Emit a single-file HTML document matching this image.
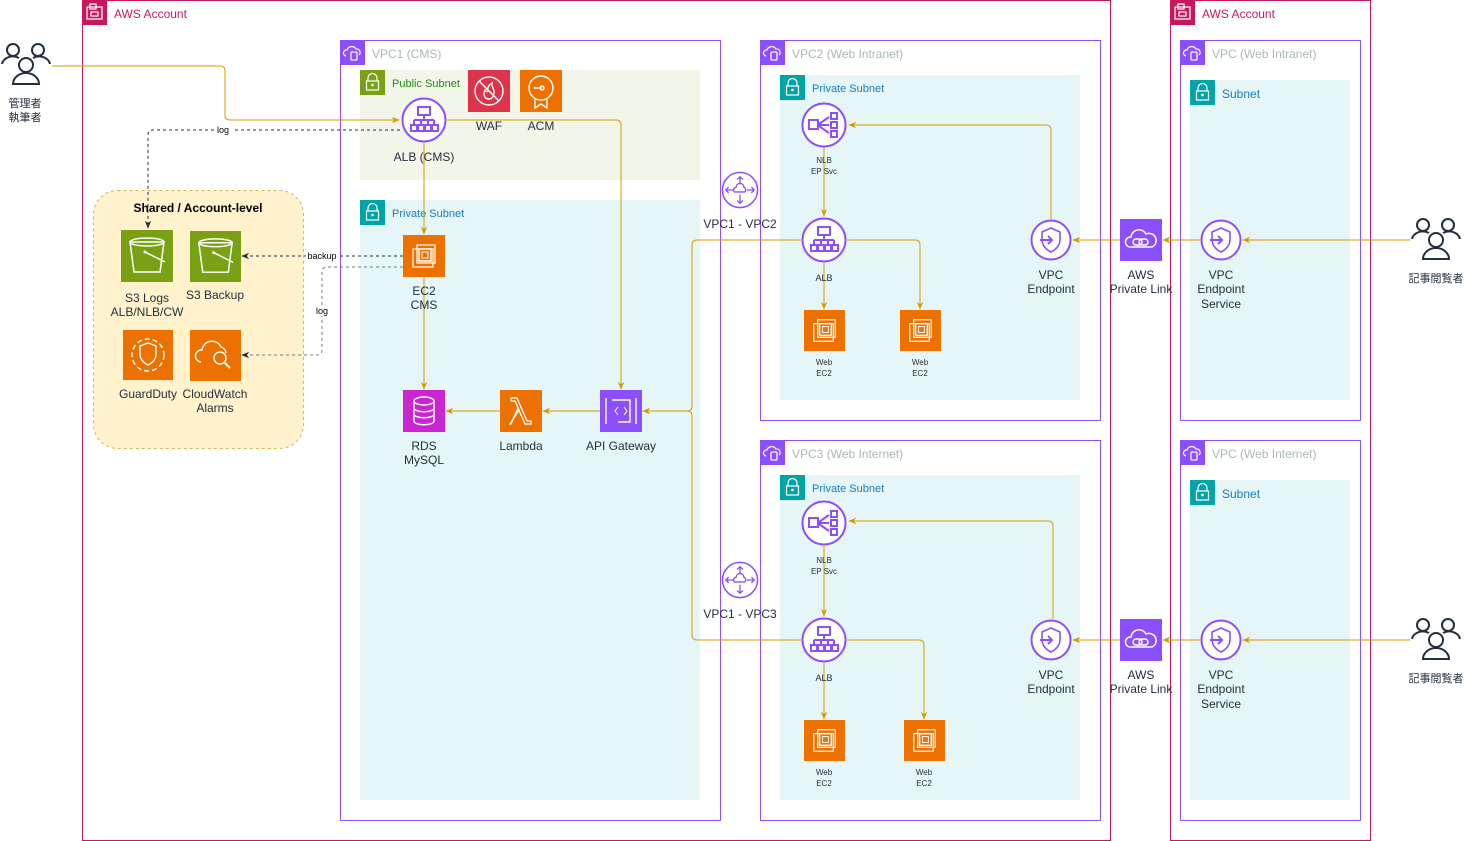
<!DOCTYPE html>
<html><head><meta charset="utf-8"><style>
html,body{margin:0;padding:0;background:#fff;}
svg{display:block;font-family:"Liberation Sans","Noto Sans CJK JP",sans-serif;}
</style></head><body>
<svg width="1465" height="841" viewBox="0 0 1465 841" xmlns="http://www.w3.org/2000/svg">
<defs>
<symbol id="lock" viewBox="0 0 25 25"><path d="M8 11V8a4.5 4.5 0 0 1 9 0v3" fill="none" stroke="#fff" stroke-width="1.2"/><rect x="6.5" y="11" width="12" height="9" fill="none" stroke="#fff" stroke-width="1.2"/><circle cx="12.5" cy="15" r="1.3" fill="#fff"/></symbol>
<symbol id="vpc" viewBox="0 0 25 25"><path d="M6 16a3 3 0 0 1 1-6 5 5 0 0 1 9-1 3.5 3.5 0 0 1 3 6" fill="none" stroke="#fff" stroke-width="1.2"/><rect x="11" y="12" width="6" height="8" rx="1" fill="none" stroke="#fff" stroke-width="1.2"/></symbol>
<symbol id="acct" viewBox="0 0 25 25"><rect x="5" y="7" width="15" height="12" fill="none" stroke="#fff" stroke-width="1.2"/><rect x="8" y="4" width="6" height="5" fill="none" stroke="#fff" stroke-width="1.2"/><rect x="9" y="12" width="7" height="4" fill="none" stroke="#fff" stroke-width="1.2"/></symbol>
<symbol id="ec2" viewBox="0 0 42 42"><rect x="10" y="14" width="20" height="18" fill="none" stroke="#fff" stroke-width="1.2"/><rect x="14" y="10" width="18" height="18" fill="none" stroke="#fff" stroke-width="1.2"/><rect x="16" y="14" width="12" height="12" fill="#ed7100" stroke="#fff" stroke-width="1.5"/><rect x="19" y="17" width="6" height="6" fill="none" stroke="#fff"/></symbol>
<symbol id="alb" viewBox="0 0 46 46"><circle cx="23" cy="23" r="21.5" fill="#fff" stroke="#8c4fff" stroke-width="2"/><rect x="17" y="10" width="12" height="8" fill="none" stroke="#8c4fff" stroke-width="2"/><path d="M23 18v5M13 23h20M13 23v5M20 23v5M27 23v5M33 23v5" fill="none" stroke="#8c4fff" stroke-width="2"/><rect x="10" y="28" width="6" height="6" fill="none" stroke="#8c4fff" stroke-width="2"/><rect x="17" y="28" width="6" height="6" fill="none" stroke="#8c4fff" stroke-width="2"/><rect x="24" y="28" width="6" height="6" fill="none" stroke="#8c4fff" stroke-width="2"/><rect x="31" y="28" width="6" height="6" fill="none" stroke="#8c4fff" stroke-width="2"/></symbol>
<symbol id="nlb" viewBox="0 0 46 46"><circle cx="23" cy="23" r="21.5" fill="#fff" stroke="#8c4fff" stroke-width="2"/><rect x="8" y="18" width="9" height="9" fill="none" stroke="#8c4fff" stroke-width="2"/><path d="M18 22l10-7M18 23h10M18 24l10 7" stroke="#8c4fff" stroke-width="2"/><rect x="30" y="11" width="6" height="6" fill="none" stroke="#8c4fff" stroke-width="2"/><rect x="30" y="20" width="6" height="6" fill="none" stroke="#8c4fff" stroke-width="2"/><rect x="30" y="29" width="6" height="6" fill="none" stroke="#8c4fff" stroke-width="2"/></symbol>
<symbol id="vpe" viewBox="0 0 42 42"><circle cx="21" cy="21" r="19.5" fill="#fff" stroke="#8c4fff" stroke-width="2"/><path d="M21 9l9 4v7c0 7-5 11-9 13-4-2-9-6-9-13v-7z" fill="none" stroke="#8c4fff" stroke-width="1.6"/><path d="M10 21h12M18 17l4 4-4 4" fill="none" stroke="#8c4fff" stroke-width="2"/></symbol>
<symbol id="peer" viewBox="0 0 40 40"><circle cx="20" cy="20" r="18.5" fill="#fff" stroke="#8c4fff" stroke-width="1.6"/><path d="M14 22a3 3 0 0 1 2-5 4 4 0 0 1 8 0 3 3 0 0 1 1 5z" fill="none" stroke="#8c4fff" stroke-width="1.4"/><path d="M20 6v8M17 9l3-3 3 3M20 25v9M17 31l3 3 3-3M5 20h8M8 17l-3 3 3 3M27 20h8M32 17l3 3-3 3" fill="none" stroke="#8c4fff" stroke-width="1.4"/></symbol>
<symbol id="plink" viewBox="0 0 42 42"><rect width="42" height="42" fill="#8c4fff"/><path d="M10 28a5 5 0 0 1 1-10 8 8 0 0 1 15-3 6 6 0 0 1 6 13z" fill="none" stroke="#fff" stroke-width="1.5"/><rect x="13" y="20" width="9" height="6" rx="3" fill="none" stroke="#fff" stroke-width="1.5"/><rect x="19" y="20" width="9" height="6" rx="3" fill="none" stroke="#fff" stroke-width="1.5"/></symbol>
<symbol id="users" viewBox="0 0 52 52"><g fill="none" stroke="#232f3e" stroke-width="2"><circle cx="13" cy="10" r="6"/><path d="M2 24a11 9 0 0 1 17-6"/><circle cx="38" cy="10" r="6"/><path d="M33 18a11 9 0 0 1 17 6"/><circle cx="26" cy="25" r="7"/><path d="M13 44a13 11 0 0 1 26 0z"/></g></symbol>
<symbol id="bucket" viewBox="0 0 52 52"><path d="M9 12h34l-4 30H13z" fill="none" stroke="#fff" stroke-width="1.5"/><ellipse cx="26" cy="12" rx="17" ry="4" fill="none" stroke="#fff" stroke-width="1.5"/><path d="M24 22l20 10" stroke="#fff" stroke-width="1.5"/><circle cx="24" cy="22" r="1.5" fill="#fff"/></symbol>
<marker id="ao" viewBox="0 0 10 10" refX="9" refY="5" markerWidth="8" markerHeight="8" orient="auto"><path d="M0 1L10 5L0 9L3 5z" fill="#d79b00"/></marker>
<marker id="ad" viewBox="0 0 10 10" refX="9" refY="5" markerWidth="8" markerHeight="8" orient="auto"><path d="M0 1L10 5L0 9L3 5z" fill="#232f3e"/></marker>
</defs>

<!-- Accounts -->
<rect x="82.5" y="0.5" width="1028" height="840" fill="none" stroke="#c7185f" stroke-width="1"/>
<rect x="82" y="0" width="25" height="25" fill="#c7185f"/><use href="#acct" x="82" y="0" width="25" height="25"/>
<text x="114" y="18" font-size="12" fill="#c7185f">AWS Account</text>
<rect x="1170.5" y="0.5" width="200" height="840" fill="none" stroke="#c7185f"/>
<rect x="1170" y="0" width="25" height="25" fill="#c7185f"/><use href="#acct" x="1170" y="0" width="25" height="25"/>
<text x="1202" y="18" font-size="12" fill="#c7185f">AWS Account</text>

<!-- VPC1 -->
<rect x="340.5" y="40.5" width="380" height="780" fill="none" stroke="#8c4fff"/>
<rect x="340" y="40" width="25" height="25" fill="#8c4fff"/><use href="#vpc" x="340" y="40" width="25" height="25"/>
<text x="372" y="58" font-size="12" fill="#aab7b8">VPC1 (CMS)</text>
<rect x="360" y="70" width="340" height="110" fill="#f2f6e8"/>
<rect x="360" y="70" width="25" height="25" fill="#7aa116"/><use href="#lock" x="360" y="70" width="25" height="25"/>
<text x="392" y="87" font-size="11" fill="#248814">Public Subnet</text>
<rect x="360" y="200" width="340" height="600" fill="#e6f6f7"/>
<rect x="360" y="200" width="25" height="25" fill="#00a4a6"/><use href="#lock" x="360" y="200" width="25" height="25"/>
<text x="392" y="217" font-size="11" fill="#147eba">Private Subnet</text>

<!-- VPC2 -->
<rect x="760.5" y="40.5" width="340" height="380" fill="none" stroke="#8c4fff"/>
<rect x="760" y="40" width="25" height="25" fill="#8c4fff"/><use href="#vpc" x="760" y="40" width="25" height="25"/>
<text x="792" y="58" font-size="12" fill="#aab7b8">VPC2 (Web Intranet)</text>
<rect x="780" y="75" width="300" height="325" fill="#e6f6f7"/>
<rect x="780" y="75" width="25" height="25" fill="#00a4a6"/><use href="#lock" x="780" y="75" width="25" height="25"/>
<text x="812" y="92" font-size="11" fill="#147eba">Private Subnet</text>

<!-- VPC3 -->
<rect x="760.5" y="440.5" width="340" height="380" fill="none" stroke="#8c4fff"/>
<rect x="760" y="440" width="25" height="25" fill="#8c4fff"/><use href="#vpc" x="760" y="440" width="25" height="25"/>
<text x="792" y="458" font-size="12" fill="#aab7b8">VPC3 (Web Internet)</text>
<rect x="780" y="475" width="300" height="325" fill="#e6f6f7"/>
<rect x="780" y="475" width="25" height="25" fill="#00a4a6"/><use href="#lock" x="780" y="475" width="25" height="25"/>
<text x="812" y="492" font-size="11" fill="#147eba">Private Subnet</text>

<!-- Right VPCs -->
<rect x="1180.5" y="40.5" width="180" height="380" fill="none" stroke="#8c4fff"/>
<rect x="1180" y="40" width="25" height="25" fill="#8c4fff"/><use href="#vpc" x="1180" y="40" width="25" height="25"/>
<text x="1212" y="58" font-size="12" fill="#aab7b8">VPC (Web Intranet)</text>
<rect x="1190" y="80" width="160" height="320" fill="#e6f6f7"/>
<rect x="1190" y="80" width="25" height="25" fill="#00a4a6"/><use href="#lock" x="1190" y="80" width="25" height="25"/>
<text x="1222" y="98" font-size="12" fill="#147eba">Subnet</text>
<rect x="1180.5" y="440.5" width="180" height="380" fill="none" stroke="#8c4fff"/>
<rect x="1180" y="440" width="25" height="25" fill="#8c4fff"/><use href="#vpc" x="1180" y="440" width="25" height="25"/>
<text x="1212" y="458" font-size="12" fill="#aab7b8">VPC (Web Internet)</text>
<rect x="1190" y="480" width="160" height="320" fill="#e6f6f7"/>
<rect x="1190" y="480" width="25" height="25" fill="#00a4a6"/><use href="#lock" x="1190" y="480" width="25" height="25"/>
<text x="1222" y="498" font-size="12" fill="#147eba">Subnet</text>

<!-- Shared -->
<rect x="93.5" y="190.5" width="210" height="258" rx="24" fill="#fff2cc" stroke="#d6b656" stroke-dasharray="3 3"/>
<text x="198" y="212" font-size="12" font-weight="bold" text-anchor="middle" fill="#000">Shared / Account-level</text>

<!-- connectors -->
<g fill="none" stroke="#d79b00" stroke-width="1">
<path d="M52 66H220q5 0 5 5V115q0 5 5 5H399" marker-end="url(#ao)"/>
<path d="M424 143V234" marker-end="url(#ao)"/>
<path d="M447 120H616q5 0 5 5V389" marker-end="url(#ao)"/>
<path d="M424 277V389" marker-end="url(#ao)"/>
<path d="M500 411H446" marker-end="url(#ao)"/>
<path d="M600 411H543" marker-end="url(#ao)"/>
<path d="M801 240H697q-5 0-5 5V406q0 5-5 5" />
<path d="M801 640H697q-5 0-5-5V416q0-5-5-5H643" marker-end="url(#ao)"/>
<path d="M824 148V216" marker-end="url(#ao)"/>
<path d="M824 263V309" marker-end="url(#ao)"/>
<path d="M847 240H915q5 0 5 5V309" marker-end="url(#ao)"/>
<path d="M1051 219V130q0-5-5-5H849" marker-end="url(#ao)"/>
<path d="M1120 240H1073" marker-end="url(#ao)"/>
<path d="M1200 240H1163" marker-end="url(#ao)"/>
<path d="M1410 240H1243" marker-end="url(#ao)"/>
<path d="M824 546V616" marker-end="url(#ao)"/>
<path d="M824 663V719" marker-end="url(#ao)"/>
<path d="M847 640H919q5 0 5 5V719" marker-end="url(#ao)"/>
<path d="M1053 619V526q0-5-5-5H849" marker-end="url(#ao)"/>
<path d="M1120 640H1073" marker-end="url(#ao)"/>
<path d="M1200 640H1163" marker-end="url(#ao)"/>
<path d="M1410 640H1243" marker-end="url(#ao)"/>
</g>
<g fill="none" stroke-width="1" stroke-dasharray="3 3">
<path d="M400 130H153q-5 0-5 5V228" stroke="#232f3e" marker-end="url(#ad)"/>
<path d="M403 256H242" stroke="#232f3e" marker-end="url(#ad)"/>
<path d="M403 267H327q-5 0-5 5V350q0 5-5 5H242" stroke="#6c7a89" marker-end="url(#ad)"/>
</g>
<rect x="215" y="124" width="17" height="11" fill="#fff"/><text x="223" y="133" font-size="9" text-anchor="middle">log</text>
<rect x="306" y="251" width="32" height="11" fill="#fff"/><text x="322" y="259" font-size="9" text-anchor="middle">backup</text>
<rect x="314" y="305" width="16" height="11" fill="#fff"/><text x="322" y="314" font-size="9" text-anchor="middle">log</text>

<!-- icons VPC1 -->
<use href="#alb" x="401" y="97" width="46" height="46"/>
<text x="424" y="161" font-size="12" text-anchor="middle" fill="#232f3e">ALB (CMS)</text>
<rect x="468" y="70" width="42" height="42" fill="#dd344c"/>
<circle cx="489" cy="91" r="14" fill="none" stroke="#fff" stroke-width="1.4"/><path d="M479 81l20 20M489 99c-5 0-6-5-4-9 1 2 2 2 3 1-1-4 2-7 4-8-1 3 2 5 2 9 0 4-2 7-5 7z" fill="none" stroke="#fff" stroke-width="1.4"/>
<text x="489" y="130" font-size="12" text-anchor="middle" fill="#232f3e">WAF</text>
<rect x="520" y="70" width="42" height="42" fill="#ed7100"/>
<circle cx="541" cy="88" r="12" fill="none" stroke="#fff" stroke-width="1.4"/><path d="M535 99v9l6-4 6 4v-9M534 88h8M542 86a2 2 0 1 1 0 4a2 2 0 1 1 0-4" fill="none" stroke="#fff" stroke-width="1.4"/>
<text x="541" y="130" font-size="12" text-anchor="middle" fill="#232f3e">ACM</text>
<rect x="403" y="235" width="42" height="42" fill="#ed7100"/><use href="#ec2" x="403" y="235" width="42" height="42"/>
<text x="424" y="295" font-size="12" text-anchor="middle" fill="#232f3e">EC2</text><text x="424" y="309" font-size="12" text-anchor="middle" fill="#232f3e">CMS</text>
<rect x="403" y="390" width="42" height="42" fill="#c925d1"/>
<ellipse cx="424" cy="401" rx="10" ry="4" fill="none" stroke="#fff" stroke-width="1.4"/><path d="M414 401v20c0 5 20 5 20 0v-20M414 408c0 5 20 5 20 0M414 414c0 5 20 5 20 0" fill="none" stroke="#fff" stroke-width="1.4"/>
<text x="424" y="450" font-size="12" text-anchor="middle" fill="#232f3e">RDS</text><text x="424" y="464" font-size="12" text-anchor="middle" fill="#232f3e">MySQL</text>
<rect x="500" y="390" width="42" height="42" fill="#ed7100"/>
<path d="M510 424l9-14-4-9h-4v-3h6l10 23h4v3h-6l-7-16-7 16z" fill="none" stroke="#fff" stroke-width="1.3"/>
<text x="521" y="450" font-size="12" text-anchor="middle" fill="#232f3e">Lambda</text>
<rect x="600" y="390" width="42" height="42" fill="#8c4fff"/>
<path d="M606 398v26M636 398v26M612 400h18v22h-12" fill="none" stroke="#fff" stroke-width="1.4"/><path d="M618 407l-3 4 3 4M624 407l3 4-3 4" fill="none" stroke="#fff"/>
<text x="621" y="450" font-size="12" text-anchor="middle" fill="#232f3e">API Gateway</text>

<!-- Shared icons -->
<rect x="121" y="230" width="52" height="52" fill="#7aa116"/><use href="#bucket" x="121" y="230" width="52" height="52"/>
<text x="147" y="302" font-size="12" text-anchor="middle" fill="#232f3e">S3 Logs</text><text x="147" y="316" font-size="12" text-anchor="middle" fill="#232f3e">ALB/NLB/CW</text>
<rect x="190" y="231" width="51" height="51" fill="#7aa116"/><use href="#bucket" x="190" y="231" width="51" height="51"/>
<text x="215" y="299" font-size="12" text-anchor="middle" fill="#232f3e">S3 Backup</text>
<rect x="123" y="330" width="50" height="50" fill="#ed7100"/>
<circle cx="148" cy="355" r="16" fill="none" stroke="#fff" stroke-width="1.5" stroke-dasharray="5 3"/><path d="M148 343l8 3v8c0 6-4 9-8 11-4-2-8-5-8-11v-8z" fill="none" stroke="#fff" stroke-width="1.4"/>
<text x="148" y="398" font-size="12" text-anchor="middle" fill="#232f3e">GuardDuty</text>
<rect x="190" y="330" width="51" height="51" fill="#ed7100"/>
<path d="M201 362a6 6 0 0 1 1-12 10 10 0 0 1 19-3 7 7 0 0 1 5 6" fill="none" stroke="#fff" stroke-width="1.4"/><circle cx="220" cy="358" r="6" fill="none" stroke="#fff" stroke-width="1.4"/><path d="M224 362l6 6" stroke="#fff" stroke-width="2"/>
<text x="215" y="398" font-size="12" text-anchor="middle" fill="#232f3e">CloudWatch</text><text x="215" y="412" font-size="12" text-anchor="middle" fill="#232f3e">Alarms</text>

<!-- peering -->
<use href="#peer" x="721" y="171" width="38" height="38"/>
<text x="740" y="228" font-size="12" text-anchor="middle" fill="#232f3e">VPC1 - VPC2</text>
<use href="#peer" x="721" y="561" width="38" height="38"/>
<text x="740" y="618" font-size="12" text-anchor="middle" fill="#232f3e">VPC1 - VPC3</text>

<!-- VPC2 icons -->
<use href="#nlb" x="801" y="102" width="46" height="46"/>
<text x="824" y="163" font-size="8" text-anchor="middle" fill="#232f3e">NLB</text><text x="824" y="174" font-size="8" text-anchor="middle" fill="#232f3e">EP Svc</text>
<use href="#alb" x="801" y="217" width="46" height="46"/>
<text x="824" y="281" font-size="9" text-anchor="middle" fill="#232f3e">ALB</text>
<rect x="804" y="310" width="41" height="41" fill="#ed7100"/><use href="#ec2" x="804" y="310" width="41" height="41"/>
<text x="824" y="365" font-size="8" text-anchor="middle" fill="#232f3e">Web</text><text x="824" y="376" font-size="8" text-anchor="middle" fill="#232f3e">EC2</text>
<rect x="900" y="310" width="41" height="41" fill="#ed7100"/><use href="#ec2" x="900" y="310" width="41" height="41"/>
<text x="920" y="365" font-size="8" text-anchor="middle" fill="#232f3e">Web</text><text x="920" y="376" font-size="8" text-anchor="middle" fill="#232f3e">EC2</text>
<use href="#vpe" x="1030" y="219" width="42" height="42"/>
<text x="1051" y="279" font-size="12" text-anchor="middle" fill="#232f3e">VPC</text><text x="1051" y="293" font-size="12" text-anchor="middle" fill="#232f3e">Endpoint</text>
<use href="#plink" x="1120" y="219" width="42" height="42"/>
<text x="1141" y="279" font-size="12" text-anchor="middle" fill="#232f3e">AWS</text><text x="1141" y="293" font-size="12" text-anchor="middle" fill="#232f3e">Private Link</text>
<use href="#vpe" x="1200" y="219" width="42" height="42"/>
<text x="1221" y="279" font-size="12" text-anchor="middle" fill="#232f3e">VPC</text><text x="1221" y="293" font-size="12" text-anchor="middle" fill="#232f3e">Endpoint</text><text x="1221" y="308" font-size="12" text-anchor="middle" fill="#232f3e">Service</text>

<!-- VPC3 icons -->
<use href="#nlb" x="801" y="500" width="46" height="46"/>
<text x="824" y="563" font-size="8" text-anchor="middle" fill="#232f3e">NLB</text><text x="824" y="574" font-size="8" text-anchor="middle" fill="#232f3e">EP Svc</text>
<use href="#alb" x="801" y="617" width="46" height="46"/>
<text x="824" y="681" font-size="9" text-anchor="middle" fill="#232f3e">ALB</text>
<rect x="804" y="720" width="41" height="41" fill="#ed7100"/><use href="#ec2" x="804" y="720" width="41" height="41"/>
<text x="824" y="775" font-size="8" text-anchor="middle" fill="#232f3e">Web</text><text x="824" y="786" font-size="8" text-anchor="middle" fill="#232f3e">EC2</text>
<rect x="904" y="720" width="41" height="41" fill="#ed7100"/><use href="#ec2" x="904" y="720" width="41" height="41"/>
<text x="924" y="775" font-size="8" text-anchor="middle" fill="#232f3e">Web</text><text x="924" y="786" font-size="8" text-anchor="middle" fill="#232f3e">EC2</text>
<use href="#vpe" x="1030" y="619" width="42" height="42"/>
<text x="1051" y="679" font-size="12" text-anchor="middle" fill="#232f3e">VPC</text><text x="1051" y="693" font-size="12" text-anchor="middle" fill="#232f3e">Endpoint</text>
<use href="#plink" x="1120" y="619" width="42" height="42"/>
<text x="1141" y="679" font-size="12" text-anchor="middle" fill="#232f3e">AWS</text><text x="1141" y="693" font-size="12" text-anchor="middle" fill="#232f3e">Private Link</text>
<use href="#vpe" x="1200" y="619" width="42" height="42"/>
<text x="1221" y="679" font-size="12" text-anchor="middle" fill="#232f3e">VPC</text><text x="1221" y="693" font-size="12" text-anchor="middle" fill="#232f3e">Endpoint</text><text x="1221" y="708" font-size="12" text-anchor="middle" fill="#232f3e">Service</text>

<!-- users -->
<use href="#users" x="0" y="40" width="52" height="52"/>
<text x="25" y="107" font-size="11" text-anchor="middle" fill="#232f3e">管理者</text><text x="25" y="121" font-size="11" text-anchor="middle" fill="#232f3e">執筆者</text>
<use href="#users" x="1410" y="215" width="52" height="52"/>
<text x="1436" y="282" font-size="11" text-anchor="middle" fill="#232f3e">記事閲覧者</text>
<use href="#users" x="1410" y="615" width="52" height="52"/>
<text x="1436" y="682" font-size="11" text-anchor="middle" fill="#232f3e">記事閲覧者</text>
</svg>
</body></html>
